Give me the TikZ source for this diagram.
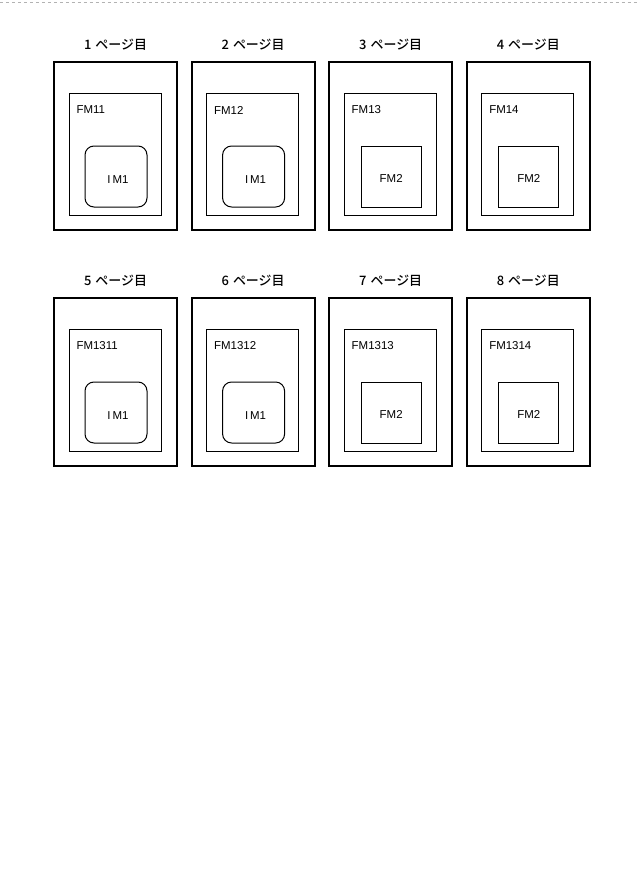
\documentclass[tikz,border=0pt]{standalone}
\usepackage{fontspec}
\setmainfont{Liberation Sans}
\newfontfamily\cjk{Noto Sans CJK JP Medium}
\begin{document}
\begin{tikzpicture}[x=1bp,y=-1bp,
  outer/.style={draw,line width=2.2bp},
  inner/.style={draw,line width=0.8bp},
  img/.style={draw,line width=1bp,rounded corners=9bp},
  fmb/.style={draw,line width=0.9bp},
  lab/.style={font=\cjk\fontsize{13}{13}\selectfont},
  txt/.style={font=\fontsize{11.5}{12}\selectfont,anchor=west}]
\useasboundingbox (0,0) rectangle (640,876);
\draw[gray!60,dashed,line width=0.6bp] (0,2) -- (640,2);
\foreach \i/\n/\k [count=\c from 0] in {1/FM11/i,2/FM12/i,3/FM13/f,4/FM14/f,5/FM1311/i,6/FM1312/i,7/FM1313/f,8/FM1314/f}{
  \pgfmathsetmacro{\X}{54+137.6*mod(\c,4)}
  \pgfmathsetmacro{\Y}{62+236*int(\c/4)}
  \node[lab] (l\i) at (\X+61.5,\Y-17) {\i\hspace{4bp}ページ目};
  \draw[outer] (\X,\Y) rectangle ++(123,168);
  \draw[inner] (\X+15,\Y+31) rectangle ++(92,122);
  \node[txt] (t\i) at (\X+19,\Y+48) {\n};
  \if\k i
    \draw[img] (\X+31,\Y+84) rectangle ++(62,61);
    \node[font=\fontsize{11.5}{12}\selectfont] (m\i) at (\X+64,\Y+118) {I\,M1};
  \else
    \draw[fmb] (\X+32,\Y+84) rectangle ++(60,61);
    \node[font=\fontsize{11.5}{12}\selectfont] (m\i) at (\X+62,\Y+116) {FM2};
  \fi
}
\end{tikzpicture}
\end{document}
